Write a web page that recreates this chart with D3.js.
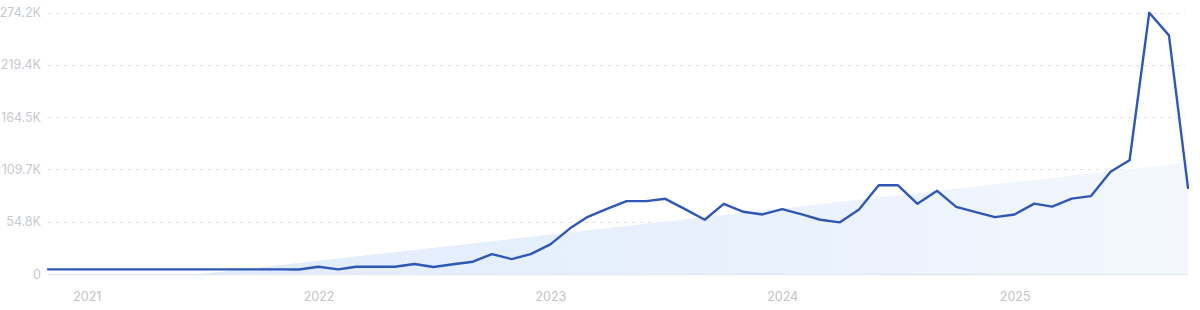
<!DOCTYPE html>
<html>
<head>
<meta charset="utf-8">
<script src="https://cdn.jsdelivr.net/npm/d3@7"></script>
<style>
  html, body { margin: 0; padding: 0; background: #ffffff; }
  svg { display: block; font-family: Inter, "Noto Sans", sans-serif; }
</style>
</head>
<body>
<svg id="chart" width="1200" height="310"></svg>
<script>
// ---- data ----
const months = [
  "2020-11","2020-12",
  "2021-01","2021-02","2021-03","2021-04","2021-05","2021-06","2021-07","2021-08","2021-09","2021-10","2021-11","2021-12",
  "2022-01","2022-02","2022-03","2022-04","2022-05","2022-06","2022-07","2022-08","2022-09","2022-10","2022-11","2022-12",
  "2023-01","2023-02","2023-03","2023-04","2023-05","2023-06","2023-07","2023-08","2023-09","2023-10","2023-11","2023-12",
  "2024-01","2024-02","2024-03","2024-04","2024-05","2024-06","2024-07","2024-08","2024-09","2024-10","2024-11","2024-12",
  "2025-01","2025-02","2025-03","2025-04","2025-05","2025-06","2025-07","2025-08","2025-09","2025-10"
];
const searches = [
  4900, 4900,
  4900, 4900, 4900, 4900, 4900, 4900, 4900, 4900, 4900, 4900, 4900, 4700,
  7600, 4900, 7600, 7600, 7600, 10500, 7300, 10200, 12900, 20900, 15700, 20900,
  31100, 47900, 60000, 68500, 76500, 76500, 78900, 68100, 56900, 73600, 65300, 62500,
  68100, 62500, 56900, 54200, 67800, 93200, 93200, 73600, 87300, 70500, 65000, 59700,
  62500, 73800, 70700, 79100, 81700, 107200, 119400, 274200, 250400, 90400
];
// trend band (start and end points)
const trendMonths = ["2021-07", "2025-10"];
const trendValues = [0, 117000];

const yMax = 274200;
const yTickValues = [0, 54840, 109680, 164520, 219360, 274200];
const yTickLabels = ["0", "54.8K", "109.7K", "164.5K", "219.4K", "274.2K"];
const xTickYears = ["2021", "2022", "2023", "2024", "2025"];

// ---- setup ----
const parseMonth = d3.timeParse("%Y-%m");
const parseYear = d3.timeParse("%Y");
const data = months.map((m, i) => ({ date: parseMonth(m), value: searches[i] }));
const trend = trendMonths.map((m, i) => ({ date: parseMonth(m), value: trendValues[i] }));

const svg = d3.select("#chart");
const plotLeft = 48, plotRight = 1188, plotTop = 12.7, plotBottom = 274;

const x = d3.scaleTime()
  .domain(d3.extent(data, d => d.date))
  .range([plotLeft, plotRight]);
const y = d3.scaleLinear()
  .domain([0, yMax])
  .range([plotBottom, plotTop]);

// gradient for trend band
const defs = svg.append("defs");
const grad = defs.append("linearGradient")
  .attr("id", "trendGrad")
  .attr("x1", "0%").attr("x2", "100%").attr("y1", "0%").attr("y2", "0%");
grad.append("stop").attr("offset", "0%").attr("stop-color", "#e1ecfc").attr("stop-opacity", 1);
grad.append("stop").attr("offset", "55%").attr("stop-color", "#e9f1fd").attr("stop-opacity", 1);
grad.append("stop").attr("offset", "100%").attr("stop-color", "#f4f8fe").attr("stop-opacity", 1);

// grid lines
const grid = svg.append("g");
grid.selectAll("line")
  .data(yTickValues.slice(1))
  .join("line")
  .attr("x1", plotLeft).attr("x2", plotRight - 3)
  .attr("y1", d => Math.round(y(d)) + 0.5)
  .attr("y2", d => Math.round(y(d)) + 0.5)
  .attr("stroke", "#e4e6ea")
  .attr("stroke-width", 1)
  .attr("stroke-dasharray", "4,4");

// trend area
const area = d3.area()
  .x(d => x(d.date))
  .y0(y(0))
  .y1(d => y(d.value));
svg.append("path")
  .datum(trend)
  .attr("d", area)
  .attr("fill", "url(#trendGrad)");

// baseline
svg.append("line")
  .attr("x1", plotLeft).attr("x2", plotRight)
  .attr("y1", y(0) + 0.5).attr("y2", y(0) + 0.5)
  .attr("stroke", "#e2e9f3")
  .attr("stroke-width", 1.5);

// y axis labels
const yAxis = d3.axisLeft(y)
  .tickValues(yTickValues)
  .tickFormat((d, i) => yTickLabels[i])
  .tickSize(0)
  .tickPadding(6);
const gy = svg.append("g")
  .attr("transform", `translate(${plotLeft - 1},0)`)
  .call(yAxis);
gy.select(".domain").remove();
gy.selectAll("text")
  .attr("fill", "#c6c9ce")
  .attr("font-size", 12.5)
  .attr("font-family", "Inter, 'Noto Sans', sans-serif");

// x axis labels
const xAxis = d3.axisBottom(x)
  .tickValues(xTickYears.map(parseYear))
  .tickFormat(d3.timeFormat("%Y"))
  .tickSize(0)
  .tickPadding(0);
const gx = svg.append("g")
  .attr("transform", `translate(0,${plotBottom + 18})`)
  .call(xAxis);
gx.select(".domain").remove();
gx.selectAll("text")
  .attr("fill", "#c0c3c9")
  .attr("font-size", 12.5)
  .attr("font-family", "Inter, 'Noto Sans', sans-serif");

// line
const line = d3.line()
  .x(d => x(d.date))
  .y(d => y(d.value));
svg.append("path")
  .datum(data)
  .attr("d", line)
  .attr("fill", "none")
  .attr("stroke", "#2f57b5")
  .attr("stroke-width", 2.4)
  .attr("stroke-linejoin", "round")
  .attr("stroke-linecap", "round");
</script>
</body>
</html>
